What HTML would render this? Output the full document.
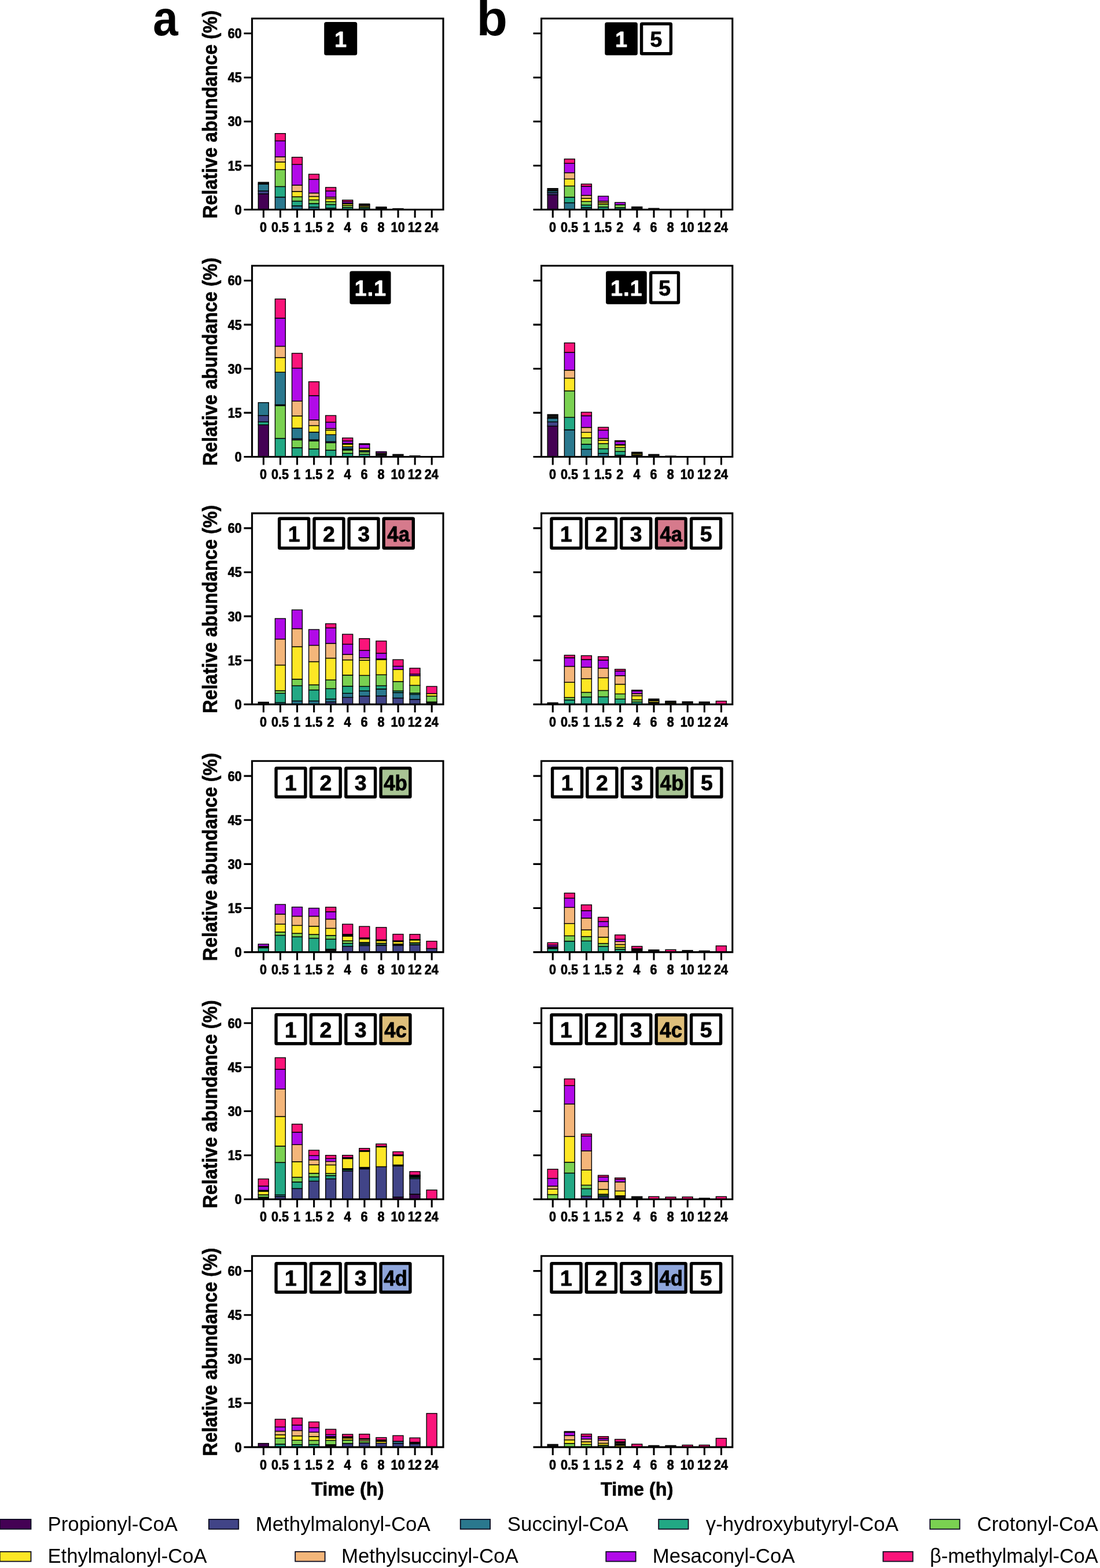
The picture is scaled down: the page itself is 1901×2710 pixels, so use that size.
<!DOCTYPE html>
<html lang="en"><head><meta charset="utf-8"><title>Relative abundance of CoA esters over time</title>
<style>html,body{margin:0;padding:0;background:#fff}body{width:1901px;height:2710px;overflow:hidden}svg{display:block}text{font-family:'Liberation Sans', sans-serif;fill:#000}.tk{font-size:22.3px;font-weight:bold;stroke:#000;stroke-width:0.7px;stroke-linejoin:round}.ax{font-size:31.8px;font-weight:bold;stroke:#000;stroke-width:0.6px;stroke-linejoin:round}.lg{font-size:34.85px}.pl{font-size:85px;font-weight:bold}.bd{font-size:37.4px;font-weight:bold;text-anchor:middle;stroke:#000;stroke-width:0.8px;stroke-linejoin:round}.fr{fill:none;stroke:#000;stroke-width:3.1}.bar rect{stroke:#000;stroke-width:1.4}</style></head>
<body><svg width="1901" height="2710" viewBox="0 0 1901 2710">
<rect width="1901" height="2710" fill="#fff"/>
<text class="pl" transform="translate(264.3 61.2) scale(0.92 1)">a</text>
<text class="pl" transform="translate(823.5 61.2) scale(1.03 1)">b</text>
<g id="panel-a1">
<g class="bar">
<rect x="446.35" y="335.06" width="17.9" height="27.24" fill="#440154"/>
<rect x="446.35" y="330.03" width="17.9" height="5.03" fill="#414487"/>
<rect x="446.35" y="318.3" width="17.9" height="11.73" fill="#2a788e"/>
<rect x="446.35" y="315.07" width="17.9" height="3.23" fill="#111111"/>
<rect x="475.43" y="340.64" width="17.9" height="21.66" fill="#2a788e"/>
<rect x="475.43" y="322.43" width="17.9" height="18.21" fill="#22a884"/>
<rect x="475.43" y="293.16" width="17.9" height="29.27" fill="#7ad151"/>
<rect x="475.43" y="279.97" width="17.9" height="13.18" fill="#fde725"/>
<rect x="475.43" y="271.03" width="17.9" height="8.94" fill="#f4b67a"/>
<rect x="475.43" y="243.44" width="17.9" height="27.6" fill="#b10ae8"/>
<rect x="475.43" y="230.71" width="17.9" height="12.72" fill="#fa147a"/>
<rect x="504.51" y="355.73" width="17.9" height="6.57" fill="#2a788e"/>
<rect x="504.51" y="347.57" width="17.9" height="8.16" fill="#22a884"/>
<rect x="504.51" y="340.08" width="17.9" height="7.49" fill="#7ad151"/>
<rect x="504.51" y="330.92" width="17.9" height="9.16" fill="#fde725"/>
<rect x="504.51" y="319.97" width="17.9" height="10.95" fill="#f4b67a"/>
<rect x="504.51" y="284.22" width="17.9" height="35.75" fill="#b10ae8"/>
<rect x="504.51" y="271.72" width="17.9" height="12.5" fill="#fa147a"/>
<rect x="533.59" y="357.96" width="17.9" height="4.34" fill="#2a788e"/>
<rect x="533.59" y="351.82" width="17.9" height="6.15" fill="#22a884"/>
<rect x="533.59" y="345.45" width="17.9" height="6.37" fill="#7ad151"/>
<rect x="533.59" y="339.53" width="17.9" height="5.92" fill="#fde725"/>
<rect x="533.59" y="333.6" width="17.9" height="5.92" fill="#f4b67a"/>
<rect x="533.59" y="309.92" width="17.9" height="23.69" fill="#b10ae8"/>
<rect x="533.59" y="301.1" width="17.9" height="8.81" fill="#fa147a"/>
<rect x="562.67" y="359.64" width="17.9" height="2.66" fill="#2a788e"/>
<rect x="562.67" y="353.49" width="17.9" height="6.15" fill="#22a884"/>
<rect x="562.67" y="348.46" width="17.9" height="5.03" fill="#7ad151"/>
<rect x="562.67" y="343.44" width="17.9" height="5.03" fill="#fde725"/>
<rect x="562.67" y="340.64" width="17.9" height="2.79" fill="#f4b67a"/>
<rect x="562.67" y="330.03" width="17.9" height="10.61" fill="#b10ae8"/>
<rect x="562.67" y="323.9" width="17.9" height="6.13" fill="#fa147a"/>
<rect x="591.75" y="358.52" width="17.9" height="3.78" fill="#22a884"/>
<rect x="591.75" y="355.17" width="17.9" height="3.35" fill="#7ad151"/>
<rect x="591.75" y="352.37" width="17.9" height="2.79" fill="#fde725"/>
<rect x="591.75" y="351.26" width="17.9" height="1.12" fill="#f4b67a"/>
<rect x="591.75" y="348.46" width="17.9" height="2.79" fill="#b10ae8"/>
<rect x="591.75" y="345.8" width="17.9" height="2.67" fill="#fa147a"/>
<rect x="620.83" y="359.41" width="17.9" height="2.89" fill="#22a884"/>
<rect x="620.83" y="357.4" width="17.9" height="2.01" fill="#7ad151"/>
<rect x="620.83" y="355.39" width="17.9" height="2.01" fill="#fde725"/>
<rect x="620.83" y="353.72" width="17.9" height="1.68" fill="#b10ae8"/>
<rect x="620.83" y="352.39" width="17.9" height="1.33" fill="#fa147a"/>
<rect x="649.91" y="359.86" width="17.9" height="2.44" fill="#111111"/>
<rect x="649.91" y="358.85" width="17.9" height="1.01" fill="#fde725"/>
<rect x="649.91" y="357.75" width="17.9" height="1.1" fill="#111111"/>
<rect x="678.99" y="360.55" width="17.9" height="1.75" fill="#111111"/>
<rect x="708.07" y="362" width="17.9" height="0.3" fill="#111111"/>
</g>
<path class="fr" d="M421.5 362.3H766V32H435.6V362.3M421.5 286.18H435.6M421.5 210.05H435.6M421.5 133.93H435.6M421.5 57.8H435.6M455.4 362.3V376.2M484.48 362.3V376.2M513.56 362.3V376.2M542.64 362.3V376.2M571.72 362.3V376.2M600.8 362.3V376.2M629.88 362.3V376.2M658.96 362.3V376.2M688.04 362.3V376.2M717.12 362.3V376.2M746.2 362.3V376.2"/>
<text class="tk" text-anchor="middle" transform="translate(455 400.7) scale(0.97 1.05)">0</text>
<text class="tk" text-anchor="middle" transform="translate(484.08 400.7) scale(0.97 1.05)">0.5</text>
<text class="tk" text-anchor="middle" transform="translate(513.16 400.7) scale(0.97 1.05)">1</text>
<text class="tk" text-anchor="middle" transform="translate(542.24 400.7) scale(0.97 1.05)">1.5</text>
<text class="tk" text-anchor="middle" transform="translate(571.32 400.7) scale(0.97 1.05)">2</text>
<text class="tk" text-anchor="middle" transform="translate(600.4 400.7) scale(0.97 1.05)">4</text>
<text class="tk" text-anchor="middle" transform="translate(629.48 400.7) scale(0.97 1.05)">6</text>
<text class="tk" text-anchor="middle" transform="translate(658.56 400.7) scale(0.97 1.05)">8</text>
<text class="tk" text-anchor="middle" transform="translate(687.64 400.7) scale(0.97 1.05)">10</text>
<text class="tk" text-anchor="middle" transform="translate(716.72 400.7) scale(0.97 1.05)">12</text>
<text class="tk" text-anchor="middle" transform="translate(745.8 400.7) scale(0.97 1.05)">24</text>
<text class="tk" text-anchor="end" transform="translate(417.8 370.7) scale(0.97 1.05)">0</text>
<text class="tk" text-anchor="end" transform="translate(417.8 294.57) scale(0.97 1.05)">15</text>
<text class="tk" text-anchor="end" transform="translate(417.8 218.45) scale(0.97 1.05)">30</text>
<text class="tk" text-anchor="end" transform="translate(417.8 142.33) scale(0.97 1.05)">45</text>
<text class="tk" text-anchor="end" transform="translate(417.8 66.2) scale(0.97 1.05)">60</text>
<text class="ax" transform="translate(374.9 377.7) rotate(-90) scale(1.008 1.075)">Relative abundance (%)</text>
<rect x="560.2" y="38.1" width="57" height="57.4" rx="3.5" fill="#000"/>
<text class="bd" style="fill:#fff;stroke:#fff" transform="translate(588.7 80.7)">1</text>
</g>
<g id="panel-b1">
<g class="bar">
<rect x="946.25" y="336.51" width="17.9" height="25.79" fill="#440154"/>
<rect x="946.25" y="332.93" width="17.9" height="3.58" fill="#414487"/>
<rect x="946.25" y="329.8" width="17.9" height="3.13" fill="#2a788e"/>
<rect x="946.25" y="325.69" width="17.9" height="4.12" fill="#111111"/>
<rect x="975.37" y="350.47" width="17.9" height="11.83" fill="#2a788e"/>
<rect x="975.37" y="340.75" width="17.9" height="9.72" fill="#22a884"/>
<rect x="975.37" y="321.42" width="17.9" height="19.33" fill="#7ad151"/>
<rect x="975.37" y="309.36" width="17.9" height="12.07" fill="#fde725"/>
<rect x="975.37" y="298.52" width="17.9" height="10.84" fill="#f4b67a"/>
<rect x="975.37" y="282.32" width="17.9" height="16.2" fill="#b10ae8"/>
<rect x="975.37" y="274.85" width="17.9" height="7.47" fill="#fa147a"/>
<rect x="1004.49" y="358.85" width="17.9" height="3.45" fill="#2a788e"/>
<rect x="1004.49" y="354.39" width="17.9" height="4.47" fill="#22a884"/>
<rect x="1004.49" y="348.24" width="17.9" height="6.15" fill="#7ad151"/>
<rect x="1004.49" y="342.65" width="17.9" height="5.59" fill="#fde725"/>
<rect x="1004.49" y="337.63" width="17.9" height="5.03" fill="#f4b67a"/>
<rect x="1004.49" y="321.98" width="17.9" height="15.64" fill="#b10ae8"/>
<rect x="1004.49" y="318.09" width="17.9" height="3.9" fill="#fa147a"/>
<rect x="1033.61" y="357.74" width="17.9" height="4.56" fill="#22a884"/>
<rect x="1033.61" y="353.27" width="17.9" height="4.47" fill="#7ad151"/>
<rect x="1033.61" y="350.47" width="17.9" height="2.79" fill="#fde725"/>
<rect x="1033.61" y="347.68" width="17.9" height="2.79" fill="#f4b67a"/>
<rect x="1033.61" y="339.09" width="17.9" height="8.59" fill="#b10ae8"/>
<rect x="1062.73" y="358.85" width="17.9" height="3.45" fill="#22a884"/>
<rect x="1062.73" y="353.83" width="17.9" height="5.03" fill="#7ad151"/>
<rect x="1062.73" y="349.93" width="17.9" height="3.9" fill="#b10ae8"/>
<rect x="1091.85" y="357.53" width="17.9" height="4.77" fill="#111111"/>
<rect x="1120.97" y="360.17" width="17.9" height="2.13" fill="#111111"/>
</g>
<path class="fr" d="M921.5 362.3H1265.8V32H935.6V362.3M921.5 286.18H935.6M921.5 210.05H935.6M921.5 133.93H935.6M921.5 57.8H935.6M955.3 362.3V376.2M984.42 362.3V376.2M1013.54 362.3V376.2M1042.66 362.3V376.2M1071.78 362.3V376.2M1100.9 362.3V376.2M1130.02 362.3V376.2M1159.14 362.3V376.2M1188.26 362.3V376.2M1217.38 362.3V376.2M1246.5 362.3V376.2"/>
<text class="tk" text-anchor="middle" transform="translate(954.9 400.7) scale(0.97 1.05)">0</text>
<text class="tk" text-anchor="middle" transform="translate(984.02 400.7) scale(0.97 1.05)">0.5</text>
<text class="tk" text-anchor="middle" transform="translate(1013.14 400.7) scale(0.97 1.05)">1</text>
<text class="tk" text-anchor="middle" transform="translate(1042.26 400.7) scale(0.97 1.05)">1.5</text>
<text class="tk" text-anchor="middle" transform="translate(1071.38 400.7) scale(0.97 1.05)">2</text>
<text class="tk" text-anchor="middle" transform="translate(1100.5 400.7) scale(0.97 1.05)">4</text>
<text class="tk" text-anchor="middle" transform="translate(1129.62 400.7) scale(0.97 1.05)">6</text>
<text class="tk" text-anchor="middle" transform="translate(1158.74 400.7) scale(0.97 1.05)">8</text>
<text class="tk" text-anchor="middle" transform="translate(1187.86 400.7) scale(0.97 1.05)">10</text>
<text class="tk" text-anchor="middle" transform="translate(1216.98 400.7) scale(0.97 1.05)">12</text>
<text class="tk" text-anchor="middle" transform="translate(1246.1 400.7) scale(0.97 1.05)">24</text>
<rect x="1045.3" y="38.4" width="56.6" height="57" rx="3.5" fill="#000"/>
<text class="bd" style="fill:#fff;stroke:#fff" transform="translate(1073.6 80.8)">1</text>
<rect x="1105.9" y="38.4" width="56.2" height="57" rx="3.5" fill="#000"/>
<rect x="1111.3" y="43.8" width="45.4" height="46.2" fill="#fff"/>
<text class="bd" transform="translate(1134 80.8)">5</text>
</g>
<g id="panel-a2">
<g class="bar">
<rect x="446.35" y="734.25" width="17.9" height="55.25" fill="#440154"/>
<rect x="446.35" y="729.19" width="17.9" height="5.05" fill="#22a884"/>
<rect x="446.35" y="718.21" width="17.9" height="10.99" fill="#414487"/>
<rect x="446.35" y="695.82" width="17.9" height="22.39" fill="#2a788e"/>
<rect x="475.43" y="757.61" width="17.9" height="31.89" fill="#22a884"/>
<rect x="475.43" y="701.15" width="17.9" height="56.46" fill="#7ad151"/>
<rect x="475.43" y="699.51" width="17.9" height="1.64" fill="#414487"/>
<rect x="475.43" y="643.31" width="17.9" height="56.21" fill="#2a788e"/>
<rect x="475.43" y="618.04" width="17.9" height="25.26" fill="#fde725"/>
<rect x="475.43" y="598.47" width="17.9" height="19.58" fill="#f4b67a"/>
<rect x="475.43" y="549.84" width="17.9" height="48.63" fill="#b10ae8"/>
<rect x="475.43" y="516.72" width="17.9" height="33.12" fill="#fa147a"/>
<rect x="504.51" y="773.78" width="17.9" height="15.72" fill="#22a884"/>
<rect x="504.51" y="760.39" width="17.9" height="13.39" fill="#7ad151"/>
<rect x="504.51" y="758.24" width="17.9" height="2.15" fill="#414487"/>
<rect x="504.51" y="739.93" width="17.9" height="18.31" fill="#2a788e"/>
<rect x="504.51" y="718.84" width="17.9" height="21.09" fill="#fde725"/>
<rect x="504.51" y="693.2" width="17.9" height="25.64" fill="#f4b67a"/>
<rect x="504.51" y="636.36" width="17.9" height="56.84" fill="#b10ae8"/>
<rect x="504.51" y="610.56" width="17.9" height="25.8" fill="#fa147a"/>
<rect x="533.59" y="775.93" width="17.9" height="13.57" fill="#22a884"/>
<rect x="533.59" y="762.03" width="17.9" height="13.89" fill="#7ad151"/>
<rect x="533.59" y="760.14" width="17.9" height="1.89" fill="#414487"/>
<rect x="533.59" y="746.88" width="17.9" height="13.26" fill="#2a788e"/>
<rect x="533.59" y="735.51" width="17.9" height="11.37" fill="#fde725"/>
<rect x="533.59" y="725.78" width="17.9" height="9.73" fill="#f4b67a"/>
<rect x="533.59" y="683.72" width="17.9" height="42.06" fill="#b10ae8"/>
<rect x="533.59" y="659.7" width="17.9" height="24.03" fill="#fa147a"/>
<rect x="562.67" y="778.07" width="17.9" height="11.43" fill="#22a884"/>
<rect x="562.67" y="765.19" width="17.9" height="12.88" fill="#7ad151"/>
<rect x="562.67" y="763.3" width="17.9" height="1.89" fill="#414487"/>
<rect x="562.67" y="751.3" width="17.9" height="12" fill="#2a788e"/>
<rect x="562.67" y="743.47" width="17.9" height="7.83" fill="#fde725"/>
<rect x="562.67" y="740.56" width="17.9" height="2.91" fill="#f4b67a"/>
<rect x="562.67" y="729.57" width="17.9" height="10.99" fill="#b10ae8"/>
<rect x="562.67" y="718.18" width="17.9" height="11.4" fill="#fa147a"/>
<rect x="591.75" y="783.51" width="17.9" height="5.99" fill="#22a884"/>
<rect x="591.75" y="777.82" width="17.9" height="5.68" fill="#7ad151"/>
<rect x="591.75" y="775.93" width="17.9" height="1.89" fill="#414487"/>
<rect x="591.75" y="772.14" width="17.9" height="3.79" fill="#2a788e"/>
<rect x="591.75" y="767.72" width="17.9" height="4.42" fill="#fde725"/>
<rect x="591.75" y="766.45" width="17.9" height="1.26" fill="#f4b67a"/>
<rect x="591.75" y="762.03" width="17.9" height="4.42" fill="#b10ae8"/>
<rect x="591.75" y="756.95" width="17.9" height="5.08" fill="#fa147a"/>
<rect x="620.83" y="785.25" width="17.9" height="4.25" fill="#22a884"/>
<rect x="620.83" y="780.78" width="17.9" height="4.47" fill="#7ad151"/>
<rect x="620.83" y="778.55" width="17.9" height="2.23" fill="#2a788e"/>
<rect x="620.83" y="774.64" width="17.9" height="3.91" fill="#fde725"/>
<rect x="620.83" y="767.93" width="17.9" height="6.7" fill="#b10ae8"/>
<rect x="620.83" y="766.83" width="17.9" height="1.1" fill="#fa147a"/>
<rect x="649.91" y="784.69" width="17.9" height="4.81" fill="#111111"/>
<rect x="649.91" y="782.79" width="17.9" height="1.9" fill="#f4b67a"/>
<rect x="649.91" y="780.57" width="17.9" height="2.22" fill="#b10ae8"/>
<rect x="678.99" y="785.38" width="17.9" height="4.12" fill="#111111"/>
<rect x="708.07" y="787.84" width="17.9" height="1.66" fill="#111111"/>
</g>
<path class="fr" d="M421.5 789.5H766V459.2H435.6V789.5M421.5 713.38H435.6M421.5 637.25H435.6M421.5 561.12H435.6M421.5 485H435.6M455.4 789.5V803.4M484.48 789.5V803.4M513.56 789.5V803.4M542.64 789.5V803.4M571.72 789.5V803.4M600.8 789.5V803.4M629.88 789.5V803.4M658.96 789.5V803.4M688.04 789.5V803.4M717.12 789.5V803.4M746.2 789.5V803.4"/>
<text class="tk" text-anchor="middle" transform="translate(455 827.9) scale(0.97 1.05)">0</text>
<text class="tk" text-anchor="middle" transform="translate(484.08 827.9) scale(0.97 1.05)">0.5</text>
<text class="tk" text-anchor="middle" transform="translate(513.16 827.9) scale(0.97 1.05)">1</text>
<text class="tk" text-anchor="middle" transform="translate(542.24 827.9) scale(0.97 1.05)">1.5</text>
<text class="tk" text-anchor="middle" transform="translate(571.32 827.9) scale(0.97 1.05)">2</text>
<text class="tk" text-anchor="middle" transform="translate(600.4 827.9) scale(0.97 1.05)">4</text>
<text class="tk" text-anchor="middle" transform="translate(629.48 827.9) scale(0.97 1.05)">6</text>
<text class="tk" text-anchor="middle" transform="translate(658.56 827.9) scale(0.97 1.05)">8</text>
<text class="tk" text-anchor="middle" transform="translate(687.64 827.9) scale(0.97 1.05)">10</text>
<text class="tk" text-anchor="middle" transform="translate(716.72 827.9) scale(0.97 1.05)">12</text>
<text class="tk" text-anchor="middle" transform="translate(745.8 827.9) scale(0.97 1.05)">24</text>
<text class="tk" text-anchor="end" transform="translate(417.8 797.9) scale(0.97 1.05)">0</text>
<text class="tk" text-anchor="end" transform="translate(417.8 721.77) scale(0.97 1.05)">15</text>
<text class="tk" text-anchor="end" transform="translate(417.8 645.65) scale(0.97 1.05)">30</text>
<text class="tk" text-anchor="end" transform="translate(417.8 569.52) scale(0.97 1.05)">45</text>
<text class="tk" text-anchor="end" transform="translate(417.8 493.4) scale(0.97 1.05)">60</text>
<text class="ax" transform="translate(374.9 804.9) rotate(-90) scale(1.008 1.075)">Relative abundance (%)</text>
<rect x="604.4" y="468.4" width="71.1" height="57.4" rx="3.5" fill="#000"/>
<text class="bd" style="fill:#fff;stroke:#fff;letter-spacing:1.2px" transform="translate(640.55 511)">1.1</text>
</g>
<g id="panel-b2">
<g class="bar">
<rect x="946.25" y="736.42" width="17.9" height="53.08" fill="#440154"/>
<rect x="946.25" y="729.16" width="17.9" height="7.26" fill="#414487"/>
<rect x="946.25" y="722.79" width="17.9" height="6.37" fill="#2a788e"/>
<rect x="946.25" y="716.44" width="17.9" height="6.35" fill="#111111"/>
<rect x="975.37" y="742.91" width="17.9" height="46.59" fill="#2a788e"/>
<rect x="975.37" y="721.34" width="17.9" height="21.56" fill="#22a884"/>
<rect x="975.37" y="675.53" width="17.9" height="45.81" fill="#7ad151"/>
<rect x="975.37" y="653.52" width="17.9" height="22.01" fill="#fde725"/>
<rect x="975.37" y="639.78" width="17.9" height="13.74" fill="#f4b67a"/>
<rect x="975.37" y="609.05" width="17.9" height="30.73" fill="#b10ae8"/>
<rect x="975.37" y="592.64" width="17.9" height="16.41" fill="#fa147a"/>
<rect x="1004.49" y="776.42" width="17.9" height="13.08" fill="#2a788e"/>
<rect x="1004.49" y="767.71" width="17.9" height="8.72" fill="#22a884"/>
<rect x="1004.49" y="756.76" width="17.9" height="10.95" fill="#7ad151"/>
<rect x="1004.49" y="747.26" width="17.9" height="9.5" fill="#fde725"/>
<rect x="1004.49" y="738.66" width="17.9" height="8.6" fill="#f4b67a"/>
<rect x="1004.49" y="718.55" width="17.9" height="20.11" fill="#b10ae8"/>
<rect x="1004.49" y="712.42" width="17.9" height="6.13" fill="#fa147a"/>
<rect x="1033.61" y="783.58" width="17.9" height="5.92" fill="#2a788e"/>
<rect x="1033.61" y="775.53" width="17.9" height="8.04" fill="#22a884"/>
<rect x="1033.61" y="766.59" width="17.9" height="8.94" fill="#7ad151"/>
<rect x="1033.61" y="761.01" width="17.9" height="5.59" fill="#fde725"/>
<rect x="1033.61" y="757.65" width="17.9" height="3.35" fill="#f4b67a"/>
<rect x="1033.61" y="743.46" width="17.9" height="14.19" fill="#b10ae8"/>
<rect x="1033.61" y="738.45" width="17.9" height="5.01" fill="#fa147a"/>
<rect x="1062.73" y="786.7" width="17.9" height="2.8" fill="#2a788e"/>
<rect x="1062.73" y="780.22" width="17.9" height="6.48" fill="#22a884"/>
<rect x="1062.73" y="773.3" width="17.9" height="6.93" fill="#7ad151"/>
<rect x="1062.73" y="769.39" width="17.9" height="3.91" fill="#fde725"/>
<rect x="1062.73" y="768.27" width="17.9" height="1.12" fill="#111111"/>
<rect x="1062.73" y="763.24" width="17.9" height="5.03" fill="#b10ae8"/>
<rect x="1062.73" y="761.58" width="17.9" height="1.66" fill="#fa147a"/>
<rect x="1091.85" y="786.15" width="17.9" height="3.35" fill="#111111"/>
<rect x="1091.85" y="783.91" width="17.9" height="2.23" fill="#fde725"/>
<rect x="1091.85" y="781.47" width="17.9" height="2.44" fill="#111111"/>
<rect x="1120.97" y="785.38" width="17.9" height="4.12" fill="#111111"/>
<rect x="1150.09" y="788.17" width="17.9" height="1.33" fill="#111111"/>
</g>
<path class="fr" d="M921.5 789.5H1265.8V459.2H935.6V789.5M921.5 713.38H935.6M921.5 637.25H935.6M921.5 561.12H935.6M921.5 485H935.6M955.3 789.5V803.4M984.42 789.5V803.4M1013.54 789.5V803.4M1042.66 789.5V803.4M1071.78 789.5V803.4M1100.9 789.5V803.4M1130.02 789.5V803.4M1159.14 789.5V803.4M1188.26 789.5V803.4M1217.38 789.5V803.4M1246.5 789.5V803.4"/>
<text class="tk" text-anchor="middle" transform="translate(954.9 827.9) scale(0.97 1.05)">0</text>
<text class="tk" text-anchor="middle" transform="translate(984.02 827.9) scale(0.97 1.05)">0.5</text>
<text class="tk" text-anchor="middle" transform="translate(1013.14 827.9) scale(0.97 1.05)">1</text>
<text class="tk" text-anchor="middle" transform="translate(1042.26 827.9) scale(0.97 1.05)">1.5</text>
<text class="tk" text-anchor="middle" transform="translate(1071.38 827.9) scale(0.97 1.05)">2</text>
<text class="tk" text-anchor="middle" transform="translate(1100.5 827.9) scale(0.97 1.05)">4</text>
<text class="tk" text-anchor="middle" transform="translate(1129.62 827.9) scale(0.97 1.05)">6</text>
<text class="tk" text-anchor="middle" transform="translate(1158.74 827.9) scale(0.97 1.05)">8</text>
<text class="tk" text-anchor="middle" transform="translate(1187.86 827.9) scale(0.97 1.05)">10</text>
<text class="tk" text-anchor="middle" transform="translate(1216.98 827.9) scale(0.97 1.05)">12</text>
<text class="tk" text-anchor="middle" transform="translate(1246.1 827.9) scale(0.97 1.05)">24</text>
<rect x="1047.1" y="468.4" width="70.7" height="57.4" rx="3.5" fill="#000"/>
<text class="bd" style="fill:#fff;stroke:#fff;letter-spacing:1.2px" transform="translate(1083.05 511)">1.1</text>
<rect x="1122" y="468.4" width="53.2" height="57.4" rx="3.5" fill="#000"/>
<rect x="1127.4" y="473.8" width="42.4" height="46.6" fill="#fff"/>
<text class="bd" transform="translate(1148.6 511)">5</text>
</g>
<g id="panel-a3">
<g class="bar">
<rect x="446.35" y="1213.51" width="17.9" height="3.89" fill="#111111"/>
<rect x="475.43" y="1214.27" width="17.9" height="3.13" fill="#2a788e"/>
<rect x="475.43" y="1198.3" width="17.9" height="15.98" fill="#22a884"/>
<rect x="475.43" y="1193.6" width="17.9" height="4.69" fill="#7ad151"/>
<rect x="475.43" y="1149.47" width="17.9" height="44.13" fill="#fde725"/>
<rect x="475.43" y="1104.55" width="17.9" height="44.92" fill="#f4b67a"/>
<rect x="475.43" y="1069.04" width="17.9" height="35.52" fill="#b10ae8"/>
<rect x="504.51" y="1211.48" width="17.9" height="5.92" fill="#2a788e"/>
<rect x="504.51" y="1185.22" width="17.9" height="26.26" fill="#22a884"/>
<rect x="504.51" y="1173.83" width="17.9" height="11.4" fill="#7ad151"/>
<rect x="504.51" y="1117.63" width="17.9" height="56.2" fill="#fde725"/>
<rect x="504.51" y="1086.56" width="17.9" height="31.06" fill="#f4b67a"/>
<rect x="504.51" y="1054.07" width="17.9" height="32.5" fill="#b10ae8"/>
<rect x="533.59" y="1211.48" width="17.9" height="5.92" fill="#2a788e"/>
<rect x="533.59" y="1192.49" width="17.9" height="18.99" fill="#22a884"/>
<rect x="533.59" y="1183.55" width="17.9" height="8.94" fill="#7ad151"/>
<rect x="533.59" y="1143.55" width="17.9" height="40" fill="#fde725"/>
<rect x="533.59" y="1115.39" width="17.9" height="28.16" fill="#f4b67a"/>
<rect x="533.59" y="1088.03" width="17.9" height="27.36" fill="#b10ae8"/>
<rect x="562.67" y="1213.16" width="17.9" height="4.24" fill="#414487"/>
<rect x="562.67" y="1208.13" width="17.9" height="5.03" fill="#2a788e"/>
<rect x="562.67" y="1190.25" width="17.9" height="17.88" fill="#22a884"/>
<rect x="562.67" y="1175.17" width="17.9" height="15.08" fill="#7ad151"/>
<rect x="562.67" y="1137.51" width="17.9" height="37.65" fill="#fde725"/>
<rect x="562.67" y="1112.04" width="17.9" height="25.47" fill="#f4b67a"/>
<rect x="562.67" y="1085.22" width="17.9" height="26.82" fill="#b10ae8"/>
<rect x="562.67" y="1077.98" width="17.9" height="7.25" fill="#fa147a"/>
<rect x="591.75" y="1205.34" width="17.9" height="12.06" fill="#414487"/>
<rect x="591.75" y="1198.3" width="17.9" height="7.04" fill="#2a788e"/>
<rect x="591.75" y="1186.01" width="17.9" height="12.29" fill="#22a884"/>
<rect x="591.75" y="1166.79" width="17.9" height="19.22" fill="#7ad151"/>
<rect x="591.75" y="1140.53" width="17.9" height="26.26" fill="#fde725"/>
<rect x="591.75" y="1131.03" width="17.9" height="9.5" fill="#f4b67a"/>
<rect x="591.75" y="1113.38" width="17.9" height="17.65" fill="#b10ae8"/>
<rect x="591.75" y="1096.19" width="17.9" height="17.19" fill="#fa147a"/>
<rect x="620.83" y="1203.1" width="17.9" height="14.3" fill="#414487"/>
<rect x="620.83" y="1194.16" width="17.9" height="8.94" fill="#2a788e"/>
<rect x="620.83" y="1186.34" width="17.9" height="7.82" fill="#22a884"/>
<rect x="620.83" y="1167.35" width="17.9" height="18.99" fill="#7ad151"/>
<rect x="620.83" y="1141.09" width="17.9" height="26.26" fill="#fde725"/>
<rect x="620.83" y="1136.84" width="17.9" height="4.25" fill="#f4b67a"/>
<rect x="620.83" y="1124.11" width="17.9" height="12.74" fill="#b10ae8"/>
<rect x="620.83" y="1103.67" width="17.9" height="20.43" fill="#fa147a"/>
<rect x="649.91" y="1202.77" width="17.9" height="14.63" fill="#414487"/>
<rect x="649.91" y="1190.81" width="17.9" height="11.96" fill="#2a788e"/>
<rect x="649.91" y="1185.22" width="17.9" height="5.59" fill="#22a884"/>
<rect x="649.91" y="1166.23" width="17.9" height="18.99" fill="#7ad151"/>
<rect x="649.91" y="1139.97" width="17.9" height="26.26" fill="#fde725"/>
<rect x="649.91" y="1138.85" width="17.9" height="1.12" fill="#f4b67a"/>
<rect x="649.91" y="1129.02" width="17.9" height="9.83" fill="#b10ae8"/>
<rect x="649.91" y="1107.92" width="17.9" height="21.1" fill="#fa147a"/>
<rect x="678.99" y="1206.45" width="17.9" height="10.95" fill="#414487"/>
<rect x="678.99" y="1196.96" width="17.9" height="9.5" fill="#2a788e"/>
<rect x="678.99" y="1194.16" width="17.9" height="2.79" fill="#22a884"/>
<rect x="678.99" y="1177.96" width="17.9" height="16.2" fill="#7ad151"/>
<rect x="678.99" y="1157.07" width="17.9" height="20.89" fill="#fde725"/>
<rect x="678.99" y="1151.48" width="17.9" height="5.59" fill="#b10ae8"/>
<rect x="678.99" y="1140.1" width="17.9" height="11.38" fill="#fa147a"/>
<rect x="708.07" y="1208.69" width="17.9" height="8.71" fill="#414487"/>
<rect x="708.07" y="1200.31" width="17.9" height="8.38" fill="#2a788e"/>
<rect x="708.07" y="1197.85" width="17.9" height="2.46" fill="#22a884"/>
<rect x="708.07" y="1184.44" width="17.9" height="13.41" fill="#7ad151"/>
<rect x="708.07" y="1167.68" width="17.9" height="16.76" fill="#fde725"/>
<rect x="708.07" y="1165.11" width="17.9" height="2.57" fill="#b10ae8"/>
<rect x="708.07" y="1154.85" width="17.9" height="10.26" fill="#fa147a"/>
<rect x="737.15" y="1213.16" width="17.9" height="4.24" fill="#111111"/>
<rect x="737.15" y="1203.1" width="17.9" height="10.06" fill="#7ad151"/>
<rect x="737.15" y="1198.63" width="17.9" height="4.47" fill="#fde725"/>
<rect x="737.15" y="1186.36" width="17.9" height="12.28" fill="#fa147a"/>
</g>
<path class="fr" d="M421.5 1217.4H766V887.1H435.6V1217.4M421.5 1141.28H435.6M421.5 1065.15H435.6M421.5 989.03H435.6M421.5 912.9H435.6M455.4 1217.4V1231.3M484.48 1217.4V1231.3M513.56 1217.4V1231.3M542.64 1217.4V1231.3M571.72 1217.4V1231.3M600.8 1217.4V1231.3M629.88 1217.4V1231.3M658.96 1217.4V1231.3M688.04 1217.4V1231.3M717.12 1217.4V1231.3M746.2 1217.4V1231.3"/>
<text class="tk" text-anchor="middle" transform="translate(455 1255.8) scale(0.97 1.05)">0</text>
<text class="tk" text-anchor="middle" transform="translate(484.08 1255.8) scale(0.97 1.05)">0.5</text>
<text class="tk" text-anchor="middle" transform="translate(513.16 1255.8) scale(0.97 1.05)">1</text>
<text class="tk" text-anchor="middle" transform="translate(542.24 1255.8) scale(0.97 1.05)">1.5</text>
<text class="tk" text-anchor="middle" transform="translate(571.32 1255.8) scale(0.97 1.05)">2</text>
<text class="tk" text-anchor="middle" transform="translate(600.4 1255.8) scale(0.97 1.05)">4</text>
<text class="tk" text-anchor="middle" transform="translate(629.48 1255.8) scale(0.97 1.05)">6</text>
<text class="tk" text-anchor="middle" transform="translate(658.56 1255.8) scale(0.97 1.05)">8</text>
<text class="tk" text-anchor="middle" transform="translate(687.64 1255.8) scale(0.97 1.05)">10</text>
<text class="tk" text-anchor="middle" transform="translate(716.72 1255.8) scale(0.97 1.05)">12</text>
<text class="tk" text-anchor="middle" transform="translate(745.8 1255.8) scale(0.97 1.05)">24</text>
<text class="tk" text-anchor="end" transform="translate(417.8 1225.8) scale(0.97 1.05)">0</text>
<text class="tk" text-anchor="end" transform="translate(417.8 1149.68) scale(0.97 1.05)">15</text>
<text class="tk" text-anchor="end" transform="translate(417.8 1073.55) scale(0.97 1.05)">30</text>
<text class="tk" text-anchor="end" transform="translate(417.8 997.43) scale(0.97 1.05)">45</text>
<text class="tk" text-anchor="end" transform="translate(417.8 921.3) scale(0.97 1.05)">60</text>
<text class="ax" transform="translate(374.9 1232.8) rotate(-90) scale(1.008 1.075)">Relative abundance (%)</text>
<rect x="480" y="893.6" width="56.3" height="56.4" rx="3.5" fill="#000"/>
<rect x="485.4" y="899" width="45.5" height="45.6" fill="#fff"/>
<text class="bd" transform="translate(508.15 935.7)">1</text>
<rect x="540.3" y="893.6" width="56.3" height="56.4" rx="3.5" fill="#000"/>
<rect x="545.7" y="899" width="45.5" height="45.6" fill="#fff"/>
<text class="bd" transform="translate(568.45 935.7)">2</text>
<rect x="600.4" y="893.6" width="56.3" height="56.4" rx="3.5" fill="#000"/>
<rect x="605.8" y="899" width="45.5" height="45.6" fill="#fff"/>
<text class="bd" transform="translate(628.55 935.7)">3</text>
<rect x="660.4" y="893.6" width="56.6" height="56.4" rx="3.5" fill="#000"/>
<rect x="665.8" y="899" width="45.8" height="45.6" fill="#d67a8c"/>
<text class="bd" transform="translate(688.7 935.7) scale(0.93 1)">4a</text>
</g>
<g id="panel-b3">
<g class="bar">
<rect x="946.25" y="1214.54" width="17.9" height="2.86" fill="#111111"/>
<rect x="975.37" y="1209.72" width="17.9" height="7.68" fill="#22a884"/>
<rect x="975.37" y="1205.47" width="17.9" height="4.25" fill="#7ad151"/>
<rect x="975.37" y="1179.22" width="17.9" height="26.26" fill="#fde725"/>
<rect x="975.37" y="1151.62" width="17.9" height="27.6" fill="#f4b67a"/>
<rect x="975.37" y="1136.76" width="17.9" height="14.86" fill="#b10ae8"/>
<rect x="975.37" y="1132.42" width="17.9" height="4.34" fill="#fa147a"/>
<rect x="1004.49" y="1204.58" width="17.9" height="12.82" fill="#22a884"/>
<rect x="1004.49" y="1196.54" width="17.9" height="8.04" fill="#7ad151"/>
<rect x="1004.49" y="1173.07" width="17.9" height="23.46" fill="#fde725"/>
<rect x="1004.49" y="1153.18" width="17.9" height="19.89" fill="#f4b67a"/>
<rect x="1004.49" y="1139.89" width="17.9" height="13.3" fill="#b10ae8"/>
<rect x="1004.49" y="1133.2" width="17.9" height="6.69" fill="#fa147a"/>
<rect x="1033.61" y="1204.36" width="17.9" height="13.04" fill="#22a884"/>
<rect x="1033.61" y="1193.41" width="17.9" height="10.95" fill="#7ad151"/>
<rect x="1033.61" y="1171.4" width="17.9" height="22.01" fill="#fde725"/>
<rect x="1033.61" y="1154.86" width="17.9" height="16.54" fill="#f4b67a"/>
<rect x="1033.61" y="1140.89" width="17.9" height="13.97" fill="#b10ae8"/>
<rect x="1033.61" y="1134.88" width="17.9" height="6.02" fill="#fa147a"/>
<rect x="1062.73" y="1208.27" width="17.9" height="9.13" fill="#22a884"/>
<rect x="1062.73" y="1199.33" width="17.9" height="8.94" fill="#7ad151"/>
<rect x="1062.73" y="1182.57" width="17.9" height="16.76" fill="#fde725"/>
<rect x="1062.73" y="1167.71" width="17.9" height="14.86" fill="#f4b67a"/>
<rect x="1062.73" y="1159.66" width="17.9" height="8.04" fill="#b10ae8"/>
<rect x="1062.73" y="1156.66" width="17.9" height="3" fill="#fa147a"/>
<rect x="1091.85" y="1213.3" width="17.9" height="4.1" fill="#22a884"/>
<rect x="1091.85" y="1209.39" width="17.9" height="3.91" fill="#7ad151"/>
<rect x="1091.85" y="1202.46" width="17.9" height="6.93" fill="#fde725"/>
<rect x="1091.85" y="1198.77" width="17.9" height="3.69" fill="#f4b67a"/>
<rect x="1091.85" y="1194.3" width="17.9" height="4.47" fill="#b10ae8"/>
<rect x="1091.85" y="1192.75" width="17.9" height="1.55" fill="#fa147a"/>
<rect x="1120.97" y="1213.8" width="17.9" height="3.6" fill="#111111"/>
<rect x="1120.97" y="1211.34" width="17.9" height="2.46" fill="#fde725"/>
<rect x="1120.97" y="1208" width="17.9" height="3.34" fill="#111111"/>
<rect x="1150.09" y="1214.92" width="17.9" height="2.48" fill="#111111"/>
<rect x="1150.09" y="1213.35" width="17.9" height="1.56" fill="#fde725"/>
<rect x="1150.09" y="1211.69" width="17.9" height="1.66" fill="#111111"/>
<rect x="1179.21" y="1212.81" width="17.9" height="4.59" fill="#111111"/>
<rect x="1208.33" y="1213.14" width="17.9" height="4.26" fill="#111111"/>
<rect x="1237.45" y="1211.69" width="17.9" height="5.71" fill="#fa147a"/>
</g>
<path class="fr" d="M921.5 1217.4H1265.8V887.1H935.6V1217.4M921.5 1141.28H935.6M921.5 1065.15H935.6M921.5 989.03H935.6M921.5 912.9H935.6M955.3 1217.4V1231.3M984.42 1217.4V1231.3M1013.54 1217.4V1231.3M1042.66 1217.4V1231.3M1071.78 1217.4V1231.3M1100.9 1217.4V1231.3M1130.02 1217.4V1231.3M1159.14 1217.4V1231.3M1188.26 1217.4V1231.3M1217.38 1217.4V1231.3M1246.5 1217.4V1231.3"/>
<text class="tk" text-anchor="middle" transform="translate(954.9 1255.8) scale(0.97 1.05)">0</text>
<text class="tk" text-anchor="middle" transform="translate(984.02 1255.8) scale(0.97 1.05)">0.5</text>
<text class="tk" text-anchor="middle" transform="translate(1013.14 1255.8) scale(0.97 1.05)">1</text>
<text class="tk" text-anchor="middle" transform="translate(1042.26 1255.8) scale(0.97 1.05)">1.5</text>
<text class="tk" text-anchor="middle" transform="translate(1071.38 1255.8) scale(0.97 1.05)">2</text>
<text class="tk" text-anchor="middle" transform="translate(1100.5 1255.8) scale(0.97 1.05)">4</text>
<text class="tk" text-anchor="middle" transform="translate(1129.62 1255.8) scale(0.97 1.05)">6</text>
<text class="tk" text-anchor="middle" transform="translate(1158.74 1255.8) scale(0.97 1.05)">8</text>
<text class="tk" text-anchor="middle" transform="translate(1187.86 1255.8) scale(0.97 1.05)">10</text>
<text class="tk" text-anchor="middle" transform="translate(1216.98 1255.8) scale(0.97 1.05)">12</text>
<text class="tk" text-anchor="middle" transform="translate(1246.1 1255.8) scale(0.97 1.05)">24</text>
<rect x="950.3" y="893.5" width="56.4" height="56.5" rx="3.5" fill="#000"/>
<rect x="955.7" y="898.9" width="45.6" height="45.7" fill="#fff"/>
<text class="bd" transform="translate(978.5 935.65)">1</text>
<rect x="1010.9" y="893.5" width="56.3" height="56.5" rx="3.5" fill="#000"/>
<rect x="1016.3" y="898.9" width="45.5" height="45.7" fill="#fff"/>
<text class="bd" transform="translate(1039.05 935.65)">2</text>
<rect x="1071.1" y="893.5" width="56.3" height="56.5" rx="3.5" fill="#000"/>
<rect x="1076.5" y="898.9" width="45.5" height="45.7" fill="#fff"/>
<text class="bd" transform="translate(1099.25 935.65)">3</text>
<rect x="1131.7" y="893.5" width="56.2" height="56.5" rx="3.5" fill="#000"/>
<rect x="1137.1" y="898.9" width="45.4" height="45.7" fill="#d67a8c"/>
<text class="bd" transform="translate(1159.8 935.65) scale(0.93 1)">4a</text>
<rect x="1191.9" y="893.5" width="56.4" height="56.5" rx="3.5" fill="#000"/>
<rect x="1197.3" y="898.9" width="45.6" height="45.7" fill="#fff"/>
<text class="bd" transform="translate(1220.1 935.65)">5</text>
</g>
<g id="panel-a4">
<g class="bar">
<rect x="446.35" y="1638.27" width="17.9" height="7.33" fill="#22a884"/>
<rect x="446.35" y="1635.47" width="17.9" height="2.79" fill="#111111"/>
<rect x="446.35" y="1631.69" width="17.9" height="3.78" fill="#b10ae8"/>
<rect x="475.43" y="1616.48" width="17.9" height="29.12" fill="#22a884"/>
<rect x="475.43" y="1610.89" width="17.9" height="5.59" fill="#7ad151"/>
<rect x="475.43" y="1597.15" width="17.9" height="13.74" fill="#fde725"/>
<rect x="475.43" y="1579.94" width="17.9" height="17.21" fill="#f4b67a"/>
<rect x="475.43" y="1563.2" width="17.9" height="16.74" fill="#b10ae8"/>
<rect x="504.51" y="1619.05" width="17.9" height="26.55" fill="#22a884"/>
<rect x="504.51" y="1613.13" width="17.9" height="5.92" fill="#7ad151"/>
<rect x="504.51" y="1599.39" width="17.9" height="13.74" fill="#fde725"/>
<rect x="504.51" y="1583.52" width="17.9" height="15.87" fill="#f4b67a"/>
<rect x="504.51" y="1567.67" width="17.9" height="15.85" fill="#b10ae8"/>
<rect x="533.59" y="1621.51" width="17.9" height="24.09" fill="#22a884"/>
<rect x="533.59" y="1615.03" width="17.9" height="6.48" fill="#7ad151"/>
<rect x="533.59" y="1600.84" width="17.9" height="14.19" fill="#fde725"/>
<rect x="533.59" y="1583.52" width="17.9" height="17.32" fill="#f4b67a"/>
<rect x="533.59" y="1569.57" width="17.9" height="13.95" fill="#b10ae8"/>
<rect x="562.67" y="1640.5" width="17.9" height="5.1" fill="#111111"/>
<rect x="562.67" y="1623.18" width="17.9" height="17.32" fill="#22a884"/>
<rect x="562.67" y="1616.7" width="17.9" height="6.48" fill="#7ad151"/>
<rect x="562.67" y="1604.41" width="17.9" height="12.29" fill="#fde725"/>
<rect x="562.67" y="1588.55" width="17.9" height="15.87" fill="#f4b67a"/>
<rect x="562.67" y="1575.7" width="17.9" height="12.85" fill="#b10ae8"/>
<rect x="562.67" y="1567.89" width="17.9" height="7.81" fill="#fa147a"/>
<rect x="591.75" y="1635.47" width="17.9" height="10.13" fill="#414487"/>
<rect x="591.75" y="1630.45" width="17.9" height="5.03" fill="#22a884"/>
<rect x="591.75" y="1625.98" width="17.9" height="4.47" fill="#7ad151"/>
<rect x="591.75" y="1617.93" width="17.9" height="8.04" fill="#fde725"/>
<rect x="591.75" y="1614.8" width="17.9" height="3.13" fill="#111111"/>
<rect x="591.75" y="1597.28" width="17.9" height="17.53" fill="#fa147a"/>
<rect x="620.83" y="1634.36" width="17.9" height="11.24" fill="#414487"/>
<rect x="620.83" y="1631.56" width="17.9" height="2.79" fill="#2a5e3c"/>
<rect x="620.83" y="1628.77" width="17.9" height="2.79" fill="#2a5e3c"/>
<rect x="620.83" y="1622.63" width="17.9" height="6.15" fill="#fde725"/>
<rect x="620.83" y="1620.95" width="17.9" height="1.68" fill="#111111"/>
<rect x="620.83" y="1601.19" width="17.9" height="19.76" fill="#fa147a"/>
<rect x="649.91" y="1633.8" width="17.9" height="11.8" fill="#414487"/>
<rect x="649.91" y="1630.22" width="17.9" height="3.58" fill="#2a5e3c"/>
<rect x="649.91" y="1625.75" width="17.9" height="4.47" fill="#fde725"/>
<rect x="649.91" y="1624.3" width="17.9" height="1.45" fill="#111111"/>
<rect x="649.91" y="1602.86" width="17.9" height="21.44" fill="#fa147a"/>
<rect x="678.99" y="1633.8" width="17.9" height="11.8" fill="#414487"/>
<rect x="678.99" y="1631.56" width="17.9" height="2.23" fill="#111111"/>
<rect x="678.99" y="1627.43" width="17.9" height="4.13" fill="#fde725"/>
<rect x="678.99" y="1625.98" width="17.9" height="1.45" fill="#111111"/>
<rect x="678.99" y="1614.6" width="17.9" height="11.38" fill="#fa147a"/>
<rect x="708.07" y="1633.24" width="17.9" height="12.36" fill="#414487"/>
<rect x="708.07" y="1629.33" width="17.9" height="3.91" fill="#2a5e3c"/>
<rect x="708.07" y="1624.64" width="17.9" height="4.69" fill="#fde725"/>
<rect x="708.07" y="1623.74" width="17.9" height="0.89" fill="#111111"/>
<rect x="708.07" y="1614.82" width="17.9" height="8.92" fill="#fa147a"/>
<rect x="737.15" y="1639.39" width="17.9" height="6.21" fill="#414487"/>
<rect x="737.15" y="1626.66" width="17.9" height="12.72" fill="#fa147a"/>
</g>
<path class="fr" d="M421.5 1645.6H766V1315.3H435.6V1645.6M421.5 1569.47H435.6M421.5 1493.35H435.6M421.5 1417.22H435.6M421.5 1341.1H435.6M455.4 1645.6V1659.5M484.48 1645.6V1659.5M513.56 1645.6V1659.5M542.64 1645.6V1659.5M571.72 1645.6V1659.5M600.8 1645.6V1659.5M629.88 1645.6V1659.5M658.96 1645.6V1659.5M688.04 1645.6V1659.5M717.12 1645.6V1659.5M746.2 1645.6V1659.5"/>
<text class="tk" text-anchor="middle" transform="translate(455 1684) scale(0.97 1.05)">0</text>
<text class="tk" text-anchor="middle" transform="translate(484.08 1684) scale(0.97 1.05)">0.5</text>
<text class="tk" text-anchor="middle" transform="translate(513.16 1684) scale(0.97 1.05)">1</text>
<text class="tk" text-anchor="middle" transform="translate(542.24 1684) scale(0.97 1.05)">1.5</text>
<text class="tk" text-anchor="middle" transform="translate(571.32 1684) scale(0.97 1.05)">2</text>
<text class="tk" text-anchor="middle" transform="translate(600.4 1684) scale(0.97 1.05)">4</text>
<text class="tk" text-anchor="middle" transform="translate(629.48 1684) scale(0.97 1.05)">6</text>
<text class="tk" text-anchor="middle" transform="translate(658.56 1684) scale(0.97 1.05)">8</text>
<text class="tk" text-anchor="middle" transform="translate(687.64 1684) scale(0.97 1.05)">10</text>
<text class="tk" text-anchor="middle" transform="translate(716.72 1684) scale(0.97 1.05)">12</text>
<text class="tk" text-anchor="middle" transform="translate(745.8 1684) scale(0.97 1.05)">24</text>
<text class="tk" text-anchor="end" transform="translate(417.8 1654) scale(0.97 1.05)">0</text>
<text class="tk" text-anchor="end" transform="translate(417.8 1577.88) scale(0.97 1.05)">15</text>
<text class="tk" text-anchor="end" transform="translate(417.8 1501.75) scale(0.97 1.05)">30</text>
<text class="tk" text-anchor="end" transform="translate(417.8 1425.62) scale(0.97 1.05)">45</text>
<text class="tk" text-anchor="end" transform="translate(417.8 1349.5) scale(0.97 1.05)">60</text>
<text class="ax" transform="translate(374.9 1661) rotate(-90) scale(1.008 1.075)">Relative abundance (%)</text>
<rect x="474.4" y="1324.9" width="56.2" height="55" rx="3.5" fill="#000"/>
<rect x="479.8" y="1330.3" width="45.4" height="44.2" fill="#fff"/>
<text class="bd" transform="translate(502.5 1366.3)">1</text>
<rect x="534.7" y="1324.9" width="56.2" height="55" rx="3.5" fill="#000"/>
<rect x="540.1" y="1330.3" width="45.4" height="44.2" fill="#fff"/>
<text class="bd" transform="translate(562.8 1366.3)">2</text>
<rect x="595.1" y="1324.9" width="56.2" height="55" rx="3.5" fill="#000"/>
<rect x="600.5" y="1330.3" width="45.4" height="44.2" fill="#fff"/>
<text class="bd" transform="translate(623.2 1366.3)">3</text>
<rect x="655.4" y="1324.9" width="56.2" height="55" rx="3.5" fill="#000"/>
<rect x="660.8" y="1330.3" width="45.4" height="44.2" fill="#a8c494"/>
<text class="bd" transform="translate(683.5 1366.3) scale(0.93 1)">4b</text>
</g>
<g id="panel-b4">
<g class="bar">
<rect x="946.25" y="1639.5" width="17.9" height="6.1" fill="#22a884"/>
<rect x="946.25" y="1636.15" width="17.9" height="3.35" fill="#111111"/>
<rect x="946.25" y="1633.35" width="17.9" height="2.79" fill="#b10ae8"/>
<rect x="946.25" y="1629.23" width="17.9" height="4.12" fill="#fa147a"/>
<rect x="975.37" y="1626.65" width="17.9" height="18.95" fill="#22a884"/>
<rect x="975.37" y="1617.37" width="17.9" height="9.27" fill="#7ad151"/>
<rect x="975.37" y="1596.26" width="17.9" height="21.12" fill="#fde725"/>
<rect x="975.37" y="1568.32" width="17.9" height="27.93" fill="#f4b67a"/>
<rect x="975.37" y="1552.35" width="17.9" height="15.98" fill="#b10ae8"/>
<rect x="975.37" y="1543.53" width="17.9" height="8.81" fill="#fa147a"/>
<rect x="1004.49" y="1626.31" width="17.9" height="19.29" fill="#22a884"/>
<rect x="1004.49" y="1618.6" width="17.9" height="7.71" fill="#7ad151"/>
<rect x="1004.49" y="1607.09" width="17.9" height="11.51" fill="#fde725"/>
<rect x="1004.49" y="1586.76" width="17.9" height="20.34" fill="#f4b67a"/>
<rect x="1004.49" y="1573.91" width="17.9" height="12.85" fill="#b10ae8"/>
<rect x="1004.49" y="1563.87" width="17.9" height="10.04" fill="#fa147a"/>
<rect x="1033.61" y="1635.59" width="17.9" height="10.01" fill="#22a884"/>
<rect x="1033.61" y="1630.56" width="17.9" height="5.03" fill="#7ad151"/>
<rect x="1033.61" y="1619.72" width="17.9" height="10.84" fill="#fde725"/>
<rect x="1033.61" y="1601.51" width="17.9" height="18.21" fill="#f4b67a"/>
<rect x="1033.61" y="1592.57" width="17.9" height="8.94" fill="#b10ae8"/>
<rect x="1033.61" y="1585.32" width="17.9" height="7.25" fill="#fa147a"/>
<rect x="1062.73" y="1640.61" width="17.9" height="4.99" fill="#22a884"/>
<rect x="1062.73" y="1637.26" width="17.9" height="3.35" fill="#7ad151"/>
<rect x="1062.73" y="1632.57" width="17.9" height="4.69" fill="#fde725"/>
<rect x="1062.73" y="1627.21" width="17.9" height="5.36" fill="#f4b67a"/>
<rect x="1062.73" y="1623.3" width="17.9" height="3.91" fill="#b10ae8"/>
<rect x="1062.73" y="1615.82" width="17.9" height="7.47" fill="#fa147a"/>
<rect x="1091.85" y="1641.9" width="17.9" height="3.7" fill="#111111"/>
<rect x="1091.85" y="1639.66" width="17.9" height="2.23" fill="#111111"/>
<rect x="1091.85" y="1635.55" width="17.9" height="4.12" fill="#fa147a"/>
<rect x="1120.97" y="1641.69" width="17.9" height="3.91" fill="#111111"/>
<rect x="1150.09" y="1641.36" width="17.9" height="4.24" fill="#fa147a"/>
<rect x="1179.21" y="1642.58" width="17.9" height="3.02" fill="#111111"/>
<rect x="1208.33" y="1643.37" width="17.9" height="2.23" fill="#111111"/>
<rect x="1237.45" y="1634.76" width="17.9" height="10.84" fill="#fa147a"/>
</g>
<path class="fr" d="M921.5 1645.6H1265.8V1315.3H935.6V1645.6M921.5 1569.47H935.6M921.5 1493.35H935.6M921.5 1417.22H935.6M921.5 1341.1H935.6M955.3 1645.6V1659.5M984.42 1645.6V1659.5M1013.54 1645.6V1659.5M1042.66 1645.6V1659.5M1071.78 1645.6V1659.5M1100.9 1645.6V1659.5M1130.02 1645.6V1659.5M1159.14 1645.6V1659.5M1188.26 1645.6V1659.5M1217.38 1645.6V1659.5M1246.5 1645.6V1659.5"/>
<text class="tk" text-anchor="middle" transform="translate(954.9 1684) scale(0.97 1.05)">0</text>
<text class="tk" text-anchor="middle" transform="translate(984.02 1684) scale(0.97 1.05)">0.5</text>
<text class="tk" text-anchor="middle" transform="translate(1013.14 1684) scale(0.97 1.05)">1</text>
<text class="tk" text-anchor="middle" transform="translate(1042.26 1684) scale(0.97 1.05)">1.5</text>
<text class="tk" text-anchor="middle" transform="translate(1071.38 1684) scale(0.97 1.05)">2</text>
<text class="tk" text-anchor="middle" transform="translate(1100.5 1684) scale(0.97 1.05)">4</text>
<text class="tk" text-anchor="middle" transform="translate(1129.62 1684) scale(0.97 1.05)">6</text>
<text class="tk" text-anchor="middle" transform="translate(1158.74 1684) scale(0.97 1.05)">8</text>
<text class="tk" text-anchor="middle" transform="translate(1187.86 1684) scale(0.97 1.05)">10</text>
<text class="tk" text-anchor="middle" transform="translate(1216.98 1684) scale(0.97 1.05)">12</text>
<text class="tk" text-anchor="middle" transform="translate(1246.1 1684) scale(0.97 1.05)">24</text>
<rect x="951.9" y="1324.9" width="56.4" height="55" rx="3.5" fill="#000"/>
<rect x="957.3" y="1330.3" width="45.6" height="44.2" fill="#fff"/>
<text class="bd" transform="translate(980.1 1366.3)">1</text>
<rect x="1012.2" y="1324.9" width="56.4" height="55" rx="3.5" fill="#000"/>
<rect x="1017.6" y="1330.3" width="45.6" height="44.2" fill="#fff"/>
<text class="bd" transform="translate(1040.4 1366.3)">2</text>
<rect x="1072.6" y="1324.9" width="56.4" height="55" rx="3.5" fill="#000"/>
<rect x="1078" y="1330.3" width="45.6" height="44.2" fill="#fff"/>
<text class="bd" transform="translate(1100.8 1366.3)">3</text>
<rect x="1132.9" y="1324.9" width="56.4" height="55" rx="3.5" fill="#000"/>
<rect x="1138.3" y="1330.3" width="45.6" height="44.2" fill="#a8c494"/>
<text class="bd" transform="translate(1161.1 1366.3) scale(0.93 1)">4b</text>
<rect x="1193.3" y="1324.9" width="56.3" height="55" rx="3.5" fill="#000"/>
<rect x="1198.7" y="1330.3" width="45.5" height="44.2" fill="#fff"/>
<text class="bd" transform="translate(1221.45 1366.3)">5</text>
</g>
<g id="panel-a5">
<g class="bar">
<rect x="446.35" y="2069.13" width="17.9" height="3.67" fill="#111111"/>
<rect x="446.35" y="2064.94" width="17.9" height="4.19" fill="#7ad151"/>
<rect x="446.35" y="2058.94" width="17.9" height="6" fill="#fde725"/>
<rect x="446.35" y="2057.24" width="17.9" height="1.7" fill="#111111"/>
<rect x="446.35" y="2049.88" width="17.9" height="7.36" fill="#b10ae8"/>
<rect x="446.35" y="2037.55" width="17.9" height="12.33" fill="#fa147a"/>
<rect x="475.43" y="2068" width="17.9" height="4.8" fill="#414487"/>
<rect x="475.43" y="2065.17" width="17.9" height="2.83" fill="#2a788e"/>
<rect x="475.43" y="2009.11" width="17.9" height="56.05" fill="#22a884"/>
<rect x="475.43" y="1980.8" width="17.9" height="28.31" fill="#7ad151"/>
<rect x="475.43" y="1929.62" width="17.9" height="51.18" fill="#fde725"/>
<rect x="475.43" y="1882.28" width="17.9" height="47.33" fill="#f4b67a"/>
<rect x="475.43" y="1848.08" width="17.9" height="34.2" fill="#b10ae8"/>
<rect x="475.43" y="1828.05" width="17.9" height="20.03" fill="#fa147a"/>
<rect x="504.51" y="2054.18" width="17.9" height="18.62" fill="#414487"/>
<rect x="504.51" y="2042.86" width="17.9" height="11.32" fill="#22a884"/>
<rect x="504.51" y="2034.59" width="17.9" height="8.27" fill="#7ad151"/>
<rect x="504.51" y="2007.75" width="17.9" height="26.84" fill="#fde725"/>
<rect x="504.51" y="1978.31" width="17.9" height="29.44" fill="#f4b67a"/>
<rect x="504.51" y="1956.79" width="17.9" height="21.52" fill="#b10ae8"/>
<rect x="504.51" y="1942.88" width="17.9" height="13.92" fill="#fa147a"/>
<rect x="533.59" y="2041.39" width="17.9" height="31.41" fill="#414487"/>
<rect x="533.59" y="2034.02" width="17.9" height="7.36" fill="#22a884"/>
<rect x="533.59" y="2027.8" width="17.9" height="6.23" fill="#7ad151"/>
<rect x="533.59" y="2013.07" width="17.9" height="14.72" fill="#fde725"/>
<rect x="533.59" y="2004.58" width="17.9" height="8.49" fill="#f4b67a"/>
<rect x="533.59" y="1997.22" width="17.9" height="7.36" fill="#b10ae8"/>
<rect x="533.59" y="1987.95" width="17.9" height="9.28" fill="#fa147a"/>
<rect x="562.67" y="2037.42" width="17.9" height="35.38" fill="#414487"/>
<rect x="562.67" y="2031.76" width="17.9" height="5.66" fill="#22a884"/>
<rect x="562.67" y="2028.14" width="17.9" height="3.62" fill="#7ad151"/>
<rect x="562.67" y="2013.41" width="17.9" height="14.72" fill="#fde725"/>
<rect x="562.67" y="2007.41" width="17.9" height="6" fill="#f4b67a"/>
<rect x="562.67" y="2002.32" width="17.9" height="5.1" fill="#b10ae8"/>
<rect x="562.67" y="1996.78" width="17.9" height="5.54" fill="#fa147a"/>
<rect x="591.75" y="2023.69" width="17.9" height="49.11" fill="#414487"/>
<rect x="591.75" y="2021.45" width="17.9" height="2.23" fill="#22a884"/>
<rect x="591.75" y="2019.78" width="17.9" height="1.68" fill="#111111"/>
<rect x="591.75" y="2002.46" width="17.9" height="17.32" fill="#fde725"/>
<rect x="591.75" y="2000.78" width="17.9" height="1.68" fill="#111111"/>
<rect x="591.75" y="1996.66" width="17.9" height="4.12" fill="#fa147a"/>
<rect x="620.83" y="2020.34" width="17.9" height="52.46" fill="#414487"/>
<rect x="620.83" y="2017.54" width="17.9" height="2.79" fill="#111111"/>
<rect x="620.83" y="1989.94" width="17.9" height="27.6" fill="#fde725"/>
<rect x="620.83" y="1988.49" width="17.9" height="1.45" fill="#111111"/>
<rect x="620.83" y="1984.71" width="17.9" height="3.78" fill="#fa147a"/>
<rect x="649.91" y="2016.42" width="17.9" height="56.38" fill="#414487"/>
<rect x="649.91" y="1982.35" width="17.9" height="34.08" fill="#fde725"/>
<rect x="649.91" y="1981.23" width="17.9" height="1.12" fill="#111111"/>
<rect x="649.91" y="1977.11" width="17.9" height="4.12" fill="#fa147a"/>
<rect x="678.99" y="2068.94" width="17.9" height="3.86" fill="#440154"/>
<rect x="678.99" y="2015.31" width="17.9" height="53.63" fill="#414487"/>
<rect x="678.99" y="2013.41" width="17.9" height="1.9" fill="#111111"/>
<rect x="678.99" y="1997.43" width="17.9" height="15.98" fill="#fde725"/>
<rect x="678.99" y="1995.98" width="17.9" height="1.45" fill="#111111"/>
<rect x="678.99" y="1990.52" width="17.9" height="5.46" fill="#fa147a"/>
<rect x="708.07" y="2063.91" width="17.9" height="8.89" fill="#440154"/>
<rect x="708.07" y="2037.09" width="17.9" height="26.82" fill="#414487"/>
<rect x="708.07" y="2034.86" width="17.9" height="2.23" fill="#22a884"/>
<rect x="708.07" y="2033.18" width="17.9" height="1.68" fill="#111111"/>
<rect x="708.07" y="2032.07" width="17.9" height="1.12" fill="#22a884"/>
<rect x="708.07" y="2030.95" width="17.9" height="1.12" fill="#111111"/>
<rect x="708.07" y="2024.82" width="17.9" height="6.13" fill="#fa147a"/>
<rect x="737.15" y="2056.66" width="17.9" height="16.14" fill="#fa147a"/>
</g>
<path class="fr" d="M421.5 2072.8H766V1742.5H435.6V2072.8M421.5 1996.68H435.6M421.5 1920.55H435.6M421.5 1844.43H435.6M421.5 1768.3H435.6M455.4 2072.8V2086.7M484.48 2072.8V2086.7M513.56 2072.8V2086.7M542.64 2072.8V2086.7M571.72 2072.8V2086.7M600.8 2072.8V2086.7M629.88 2072.8V2086.7M658.96 2072.8V2086.7M688.04 2072.8V2086.7M717.12 2072.8V2086.7M746.2 2072.8V2086.7"/>
<text class="tk" text-anchor="middle" transform="translate(455 2111.2) scale(0.97 1.05)">0</text>
<text class="tk" text-anchor="middle" transform="translate(484.08 2111.2) scale(0.97 1.05)">0.5</text>
<text class="tk" text-anchor="middle" transform="translate(513.16 2111.2) scale(0.97 1.05)">1</text>
<text class="tk" text-anchor="middle" transform="translate(542.24 2111.2) scale(0.97 1.05)">1.5</text>
<text class="tk" text-anchor="middle" transform="translate(571.32 2111.2) scale(0.97 1.05)">2</text>
<text class="tk" text-anchor="middle" transform="translate(600.4 2111.2) scale(0.97 1.05)">4</text>
<text class="tk" text-anchor="middle" transform="translate(629.48 2111.2) scale(0.97 1.05)">6</text>
<text class="tk" text-anchor="middle" transform="translate(658.56 2111.2) scale(0.97 1.05)">8</text>
<text class="tk" text-anchor="middle" transform="translate(687.64 2111.2) scale(0.97 1.05)">10</text>
<text class="tk" text-anchor="middle" transform="translate(716.72 2111.2) scale(0.97 1.05)">12</text>
<text class="tk" text-anchor="middle" transform="translate(745.8 2111.2) scale(0.97 1.05)">24</text>
<text class="tk" text-anchor="end" transform="translate(417.8 2081.2) scale(0.97 1.05)">0</text>
<text class="tk" text-anchor="end" transform="translate(417.8 2005.08) scale(0.97 1.05)">15</text>
<text class="tk" text-anchor="end" transform="translate(417.8 1928.95) scale(0.97 1.05)">30</text>
<text class="tk" text-anchor="end" transform="translate(417.8 1852.83) scale(0.97 1.05)">45</text>
<text class="tk" text-anchor="end" transform="translate(417.8 1776.7) scale(0.97 1.05)">60</text>
<text class="ax" transform="translate(374.9 2088.2) rotate(-90) scale(1.008 1.075)">Relative abundance (%)</text>
<rect x="474.4" y="1751.1" width="56.2" height="55.3" rx="3.5" fill="#000"/>
<rect x="479.8" y="1756.5" width="45.4" height="44.5" fill="#fff"/>
<text class="bd" transform="translate(502.5 1792.65)">1</text>
<rect x="534.7" y="1751.1" width="56.2" height="55.3" rx="3.5" fill="#000"/>
<rect x="540.1" y="1756.5" width="45.4" height="44.5" fill="#fff"/>
<text class="bd" transform="translate(562.8 1792.65)">2</text>
<rect x="595.1" y="1751.1" width="56.2" height="55.3" rx="3.5" fill="#000"/>
<rect x="600.5" y="1756.5" width="45.4" height="44.5" fill="#fff"/>
<text class="bd" transform="translate(623.2 1792.65)">3</text>
<rect x="655.4" y="1751.1" width="56.2" height="55.3" rx="3.5" fill="#000"/>
<rect x="660.8" y="1756.5" width="45.4" height="44.5" fill="#debe7a"/>
<text class="bd" transform="translate(683.5 1792.65) scale(0.93 1)">4c</text>
</g>
<g id="panel-b5">
<g class="bar">
<rect x="946.25" y="2064.53" width="17.9" height="8.27" fill="#7ad151"/>
<rect x="946.25" y="2055.03" width="17.9" height="9.5" fill="#fde725"/>
<rect x="946.25" y="2050" width="17.9" height="5.03" fill="#f4b67a"/>
<rect x="946.25" y="2036.59" width="17.9" height="13.41" fill="#b10ae8"/>
<rect x="946.25" y="2020.74" width="17.9" height="15.85" fill="#fa147a"/>
<rect x="975.37" y="2027.43" width="17.9" height="45.37" fill="#22a884"/>
<rect x="975.37" y="2008.66" width="17.9" height="18.77" fill="#7ad151"/>
<rect x="975.37" y="1964.19" width="17.9" height="44.47" fill="#fde725"/>
<rect x="975.37" y="1908.1" width="17.9" height="56.09" fill="#f4b67a"/>
<rect x="975.37" y="1876.26" width="17.9" height="31.84" fill="#b10ae8"/>
<rect x="975.37" y="1864.65" width="17.9" height="11.61" fill="#fa147a"/>
<rect x="1004.49" y="2067.32" width="17.9" height="5.48" fill="#414487"/>
<rect x="1004.49" y="2054.47" width="17.9" height="12.85" fill="#22a884"/>
<rect x="1004.49" y="2048.32" width="17.9" height="6.15" fill="#7ad151"/>
<rect x="1004.49" y="2022.07" width="17.9" height="26.26" fill="#fde725"/>
<rect x="1004.49" y="1989.11" width="17.9" height="32.96" fill="#f4b67a"/>
<rect x="1004.49" y="1963.41" width="17.9" height="25.7" fill="#b10ae8"/>
<rect x="1004.49" y="1959.85" width="17.9" height="3.56" fill="#fa147a"/>
<rect x="1033.61" y="2068.44" width="17.9" height="4.36" fill="#414487"/>
<rect x="1033.61" y="2066.2" width="17.9" height="2.23" fill="#22a884"/>
<rect x="1033.61" y="2063.97" width="17.9" height="2.23" fill="#7ad151"/>
<rect x="1033.61" y="2055.59" width="17.9" height="8.38" fill="#fde725"/>
<rect x="1033.61" y="2041.96" width="17.9" height="13.63" fill="#f4b67a"/>
<rect x="1033.61" y="2034.36" width="17.9" height="7.6" fill="#b10ae8"/>
<rect x="1033.61" y="2031.36" width="17.9" height="3" fill="#fa147a"/>
<rect x="1062.73" y="2066.54" width="17.9" height="6.26" fill="#111111"/>
<rect x="1062.73" y="2058.38" width="17.9" height="8.16" fill="#fde725"/>
<rect x="1062.73" y="2042.74" width="17.9" height="15.64" fill="#f4b67a"/>
<rect x="1062.73" y="2038.27" width="17.9" height="4.47" fill="#b10ae8"/>
<rect x="1062.73" y="2035.82" width="17.9" height="2.44" fill="#fa147a"/>
<rect x="1091.85" y="2068.12" width="17.9" height="4.68" fill="#111111"/>
<rect x="1120.97" y="2068.12" width="17.9" height="4.68" fill="#fa147a"/>
<rect x="1150.09" y="2068.9" width="17.9" height="3.9" fill="#fa147a"/>
<rect x="1179.21" y="2068.67" width="17.9" height="4.13" fill="#fa147a"/>
<rect x="1208.33" y="2070.8" width="17.9" height="2" fill="#111111"/>
<rect x="1237.45" y="2068.12" width="17.9" height="4.68" fill="#fa147a"/>
</g>
<path class="fr" d="M921.5 2072.8H1265.8V1742.5H935.6V2072.8M921.5 1996.68H935.6M921.5 1920.55H935.6M921.5 1844.43H935.6M921.5 1768.3H935.6M955.3 2072.8V2086.7M984.42 2072.8V2086.7M1013.54 2072.8V2086.7M1042.66 2072.8V2086.7M1071.78 2072.8V2086.7M1100.9 2072.8V2086.7M1130.02 2072.8V2086.7M1159.14 2072.8V2086.7M1188.26 2072.8V2086.7M1217.38 2072.8V2086.7M1246.5 2072.8V2086.7"/>
<text class="tk" text-anchor="middle" transform="translate(954.9 2111.2) scale(0.97 1.05)">0</text>
<text class="tk" text-anchor="middle" transform="translate(984.02 2111.2) scale(0.97 1.05)">0.5</text>
<text class="tk" text-anchor="middle" transform="translate(1013.14 2111.2) scale(0.97 1.05)">1</text>
<text class="tk" text-anchor="middle" transform="translate(1042.26 2111.2) scale(0.97 1.05)">1.5</text>
<text class="tk" text-anchor="middle" transform="translate(1071.38 2111.2) scale(0.97 1.05)">2</text>
<text class="tk" text-anchor="middle" transform="translate(1100.5 2111.2) scale(0.97 1.05)">4</text>
<text class="tk" text-anchor="middle" transform="translate(1129.62 2111.2) scale(0.97 1.05)">6</text>
<text class="tk" text-anchor="middle" transform="translate(1158.74 2111.2) scale(0.97 1.05)">8</text>
<text class="tk" text-anchor="middle" transform="translate(1187.86 2111.2) scale(0.97 1.05)">10</text>
<text class="tk" text-anchor="middle" transform="translate(1216.98 2111.2) scale(0.97 1.05)">12</text>
<text class="tk" text-anchor="middle" transform="translate(1246.1 2111.2) scale(0.97 1.05)">24</text>
<rect x="950.3" y="1751.3" width="56.4" height="55.2" rx="3.5" fill="#000"/>
<rect x="955.7" y="1756.7" width="45.6" height="44.4" fill="#fff"/>
<text class="bd" transform="translate(978.5 1792.8)">1</text>
<rect x="1010.7" y="1751.3" width="56.4" height="55.2" rx="3.5" fill="#000"/>
<rect x="1016.1" y="1756.7" width="45.6" height="44.4" fill="#fff"/>
<text class="bd" transform="translate(1038.9 1792.8)">2</text>
<rect x="1071.1" y="1751.3" width="56.4" height="55.2" rx="3.5" fill="#000"/>
<rect x="1076.5" y="1756.7" width="45.6" height="44.4" fill="#fff"/>
<text class="bd" transform="translate(1099.3 1792.8)">3</text>
<rect x="1131.5" y="1751.3" width="56.4" height="55.2" rx="3.5" fill="#000"/>
<rect x="1136.9" y="1756.7" width="45.6" height="44.4" fill="#debe7a"/>
<text class="bd" transform="translate(1159.7 1792.8) scale(0.93 1)">4c</text>
<rect x="1191.9" y="1751.3" width="56.4" height="55.2" rx="3.5" fill="#000"/>
<rect x="1197.3" y="1756.7" width="45.6" height="44.4" fill="#fff"/>
<text class="bd" transform="translate(1220.1 1792.8)">5</text>
</g>
<g id="panel-a6">
<g class="bar">
<rect x="446.35" y="2494.6" width="17.9" height="6.5" fill="#440154"/>
<rect x="475.43" y="2495.92" width="17.9" height="5.18" fill="#22a884"/>
<rect x="475.43" y="2485.53" width="17.9" height="10.39" fill="#7ad151"/>
<rect x="475.43" y="2479.72" width="17.9" height="5.81" fill="#fde725"/>
<rect x="475.43" y="2473.58" width="17.9" height="6.15" fill="#f4b67a"/>
<rect x="475.43" y="2466.31" width="17.9" height="7.26" fill="#b10ae8"/>
<rect x="475.43" y="2452.92" width="17.9" height="13.39" fill="#fa147a"/>
<rect x="504.51" y="2496.7" width="17.9" height="4.4" fill="#22a884"/>
<rect x="504.51" y="2489.22" width="17.9" height="7.49" fill="#7ad151"/>
<rect x="504.51" y="2481.62" width="17.9" height="7.6" fill="#fde725"/>
<rect x="504.51" y="2472.46" width="17.9" height="9.16" fill="#f4b67a"/>
<rect x="504.51" y="2462.96" width="17.9" height="9.5" fill="#b10ae8"/>
<rect x="504.51" y="2450.8" width="17.9" height="12.16" fill="#fa147a"/>
<rect x="533.59" y="2496.48" width="17.9" height="4.62" fill="#22a884"/>
<rect x="533.59" y="2489.44" width="17.9" height="7.04" fill="#7ad151"/>
<rect x="533.59" y="2482.74" width="17.9" height="6.7" fill="#fde725"/>
<rect x="533.59" y="2475.25" width="17.9" height="7.49" fill="#f4b67a"/>
<rect x="533.59" y="2467.43" width="17.9" height="7.82" fill="#b10ae8"/>
<rect x="533.59" y="2457.5" width="17.9" height="9.93" fill="#fa147a"/>
<rect x="562.67" y="2496.82" width="17.9" height="4.28" fill="#111111"/>
<rect x="562.67" y="2489.44" width="17.9" height="7.37" fill="#7ad151"/>
<rect x="562.67" y="2485.53" width="17.9" height="3.91" fill="#fde725"/>
<rect x="562.67" y="2482.74" width="17.9" height="2.79" fill="#111111"/>
<rect x="562.67" y="2479.39" width="17.9" height="3.35" fill="#b10ae8"/>
<rect x="562.67" y="2470.24" width="17.9" height="9.15" fill="#fa147a"/>
<rect x="591.75" y="2494.8" width="17.9" height="6.3" fill="#414487"/>
<rect x="591.75" y="2488.88" width="17.9" height="5.92" fill="#7ad151"/>
<rect x="591.75" y="2485.53" width="17.9" height="3.35" fill="#fde725"/>
<rect x="591.75" y="2483.07" width="17.9" height="2.46" fill="#111111"/>
<rect x="591.75" y="2478.95" width="17.9" height="4.12" fill="#fa147a"/>
<rect x="620.83" y="2493.69" width="17.9" height="7.41" fill="#414487"/>
<rect x="620.83" y="2490.34" width="17.9" height="3.35" fill="#7ad151"/>
<rect x="620.83" y="2487.54" width="17.9" height="2.79" fill="#f4b67a"/>
<rect x="620.83" y="2486.42" width="17.9" height="1.12" fill="#111111"/>
<rect x="620.83" y="2478.62" width="17.9" height="7.81" fill="#fa147a"/>
<rect x="649.91" y="2494.25" width="17.9" height="6.85" fill="#414487"/>
<rect x="649.91" y="2491.23" width="17.9" height="3.02" fill="#fde725"/>
<rect x="649.91" y="2488.66" width="17.9" height="2.57" fill="#111111"/>
<rect x="649.91" y="2484.54" width="17.9" height="4.12" fill="#fa147a"/>
<rect x="678.99" y="2494.58" width="17.9" height="6.52" fill="#414487"/>
<rect x="678.99" y="2490.89" width="17.9" height="3.69" fill="#2a788e"/>
<rect x="678.99" y="2481.19" width="17.9" height="9.71" fill="#fa147a"/>
<rect x="708.07" y="2495.36" width="17.9" height="5.74" fill="#414487"/>
<rect x="708.07" y="2492.57" width="17.9" height="2.79" fill="#111111"/>
<rect x="708.07" y="2485.1" width="17.9" height="7.47" fill="#fa147a"/>
<rect x="737.15" y="2442.86" width="17.9" height="58.24" fill="#fa147a"/>
</g>
<path class="fr" d="M421.5 2501.1H766V2170.8H435.6V2501.1M421.5 2424.97H435.6M421.5 2348.85H435.6M421.5 2272.72H435.6M421.5 2196.6H435.6M455.4 2501.1V2515M484.48 2501.1V2515M513.56 2501.1V2515M542.64 2501.1V2515M571.72 2501.1V2515M600.8 2501.1V2515M629.88 2501.1V2515M658.96 2501.1V2515M688.04 2501.1V2515M717.12 2501.1V2515M746.2 2501.1V2515"/>
<text class="tk" text-anchor="middle" transform="translate(455 2539.5) scale(0.97 1.05)">0</text>
<text class="tk" text-anchor="middle" transform="translate(484.08 2539.5) scale(0.97 1.05)">0.5</text>
<text class="tk" text-anchor="middle" transform="translate(513.16 2539.5) scale(0.97 1.05)">1</text>
<text class="tk" text-anchor="middle" transform="translate(542.24 2539.5) scale(0.97 1.05)">1.5</text>
<text class="tk" text-anchor="middle" transform="translate(571.32 2539.5) scale(0.97 1.05)">2</text>
<text class="tk" text-anchor="middle" transform="translate(600.4 2539.5) scale(0.97 1.05)">4</text>
<text class="tk" text-anchor="middle" transform="translate(629.48 2539.5) scale(0.97 1.05)">6</text>
<text class="tk" text-anchor="middle" transform="translate(658.56 2539.5) scale(0.97 1.05)">8</text>
<text class="tk" text-anchor="middle" transform="translate(687.64 2539.5) scale(0.97 1.05)">10</text>
<text class="tk" text-anchor="middle" transform="translate(716.72 2539.5) scale(0.97 1.05)">12</text>
<text class="tk" text-anchor="middle" transform="translate(745.8 2539.5) scale(0.97 1.05)">24</text>
<text class="tk" text-anchor="end" transform="translate(417.8 2509.5) scale(0.97 1.05)">0</text>
<text class="tk" text-anchor="end" transform="translate(417.8 2433.38) scale(0.97 1.05)">15</text>
<text class="tk" text-anchor="end" transform="translate(417.8 2357.25) scale(0.97 1.05)">30</text>
<text class="tk" text-anchor="end" transform="translate(417.8 2281.12) scale(0.97 1.05)">45</text>
<text class="tk" text-anchor="end" transform="translate(417.8 2205) scale(0.97 1.05)">60</text>
<text class="ax" transform="translate(374.9 2516.5) rotate(-90) scale(1.008 1.075)">Relative abundance (%)</text>
<rect x="474.4" y="2180.9" width="56.2" height="55" rx="3.5" fill="#000"/>
<rect x="479.8" y="2186.3" width="45.4" height="44.2" fill="#fff"/>
<text class="bd" transform="translate(502.5 2222.3)">1</text>
<rect x="534.7" y="2180.9" width="56.2" height="55" rx="3.5" fill="#000"/>
<rect x="540.1" y="2186.3" width="45.4" height="44.2" fill="#fff"/>
<text class="bd" transform="translate(562.8 2222.3)">2</text>
<rect x="595.1" y="2180.9" width="56.2" height="55" rx="3.5" fill="#000"/>
<rect x="600.5" y="2186.3" width="45.4" height="44.2" fill="#fff"/>
<text class="bd" transform="translate(623.2 2222.3)">3</text>
<rect x="655.4" y="2180.9" width="56.2" height="55" rx="3.5" fill="#000"/>
<rect x="660.8" y="2186.3" width="45.4" height="44.2" fill="#8fa6db"/>
<text class="bd" transform="translate(683.5 2222.3) scale(0.93 1)">4d</text>
</g>
<g id="panel-b6">
<g class="bar">
<rect x="946.25" y="2496.38" width="17.9" height="4.72" fill="#111111"/>
<rect x="975.37" y="2494.69" width="17.9" height="6.41" fill="#7ad151"/>
<rect x="975.37" y="2488.55" width="17.9" height="6.15" fill="#fde725"/>
<rect x="975.37" y="2481.06" width="17.9" height="7.49" fill="#f4b67a"/>
<rect x="975.37" y="2475.47" width="17.9" height="5.59" fill="#b10ae8"/>
<rect x="975.37" y="2474.04" width="17.9" height="1.44" fill="#fa147a"/>
<rect x="1004.49" y="2496.37" width="17.9" height="4.73" fill="#7ad151"/>
<rect x="1004.49" y="2491.9" width="17.9" height="4.47" fill="#fde725"/>
<rect x="1004.49" y="2487.21" width="17.9" height="4.69" fill="#f4b67a"/>
<rect x="1004.49" y="2482.4" width="17.9" height="4.8" fill="#b10ae8"/>
<rect x="1004.49" y="2478.51" width="17.9" height="3.9" fill="#fa147a"/>
<rect x="1033.61" y="2497.82" width="17.9" height="3.28" fill="#7ad151"/>
<rect x="1033.61" y="2494.47" width="17.9" height="3.35" fill="#fde725"/>
<rect x="1033.61" y="2489.33" width="17.9" height="5.14" fill="#f4b67a"/>
<rect x="1033.61" y="2485.98" width="17.9" height="3.35" fill="#b10ae8"/>
<rect x="1033.61" y="2482.75" width="17.9" height="3.23" fill="#fa147a"/>
<rect x="1062.73" y="2497.82" width="17.9" height="3.28" fill="#fde725"/>
<rect x="1062.73" y="2495.81" width="17.9" height="2.01" fill="#111111"/>
<rect x="1062.73" y="2493.8" width="17.9" height="2.01" fill="#f4b67a"/>
<rect x="1062.73" y="2491.9" width="17.9" height="1.9" fill="#111111"/>
<rect x="1062.73" y="2487.56" width="17.9" height="4.34" fill="#fa147a"/>
<rect x="1091.85" y="2495.94" width="17.9" height="5.16" fill="#fa147a"/>
<rect x="1120.97" y="2498.39" width="17.9" height="2.71" fill="#111111"/>
<rect x="1150.09" y="2498.39" width="17.9" height="2.71" fill="#111111"/>
<rect x="1179.21" y="2497.5" width="17.9" height="3.6" fill="#fa147a"/>
<rect x="1208.33" y="2497.5" width="17.9" height="3.6" fill="#fa147a"/>
<rect x="1237.45" y="2485.77" width="17.9" height="15.33" fill="#fa147a"/>
</g>
<path class="fr" d="M921.5 2501.1H1265.8V2170.8H935.6V2501.1M921.5 2424.97H935.6M921.5 2348.85H935.6M921.5 2272.72H935.6M921.5 2196.6H935.6M955.3 2501.1V2515M984.42 2501.1V2515M1013.54 2501.1V2515M1042.66 2501.1V2515M1071.78 2501.1V2515M1100.9 2501.1V2515M1130.02 2501.1V2515M1159.14 2501.1V2515M1188.26 2501.1V2515M1217.38 2501.1V2515M1246.5 2501.1V2515"/>
<text class="tk" text-anchor="middle" transform="translate(954.9 2539.5) scale(0.97 1.05)">0</text>
<text class="tk" text-anchor="middle" transform="translate(984.02 2539.5) scale(0.97 1.05)">0.5</text>
<text class="tk" text-anchor="middle" transform="translate(1013.14 2539.5) scale(0.97 1.05)">1</text>
<text class="tk" text-anchor="middle" transform="translate(1042.26 2539.5) scale(0.97 1.05)">1.5</text>
<text class="tk" text-anchor="middle" transform="translate(1071.38 2539.5) scale(0.97 1.05)">2</text>
<text class="tk" text-anchor="middle" transform="translate(1100.5 2539.5) scale(0.97 1.05)">4</text>
<text class="tk" text-anchor="middle" transform="translate(1129.62 2539.5) scale(0.97 1.05)">6</text>
<text class="tk" text-anchor="middle" transform="translate(1158.74 2539.5) scale(0.97 1.05)">8</text>
<text class="tk" text-anchor="middle" transform="translate(1187.86 2539.5) scale(0.97 1.05)">10</text>
<text class="tk" text-anchor="middle" transform="translate(1216.98 2539.5) scale(0.97 1.05)">12</text>
<text class="tk" text-anchor="middle" transform="translate(1246.1 2539.5) scale(0.97 1.05)">24</text>
<rect x="950.3" y="2180.9" width="56.4" height="55" rx="3.5" fill="#000"/>
<rect x="955.7" y="2186.3" width="45.6" height="44.2" fill="#fff"/>
<text class="bd" transform="translate(978.5 2222.3)">1</text>
<rect x="1010.7" y="2180.9" width="56.4" height="55" rx="3.5" fill="#000"/>
<rect x="1016.1" y="2186.3" width="45.6" height="44.2" fill="#fff"/>
<text class="bd" transform="translate(1038.9 2222.3)">2</text>
<rect x="1071.1" y="2180.9" width="56.4" height="55" rx="3.5" fill="#000"/>
<rect x="1076.5" y="2186.3" width="45.6" height="44.2" fill="#fff"/>
<text class="bd" transform="translate(1099.3 2222.3)">3</text>
<rect x="1131.5" y="2180.9" width="56.4" height="55" rx="3.5" fill="#000"/>
<rect x="1136.9" y="2186.3" width="45.6" height="44.2" fill="#8fa6db"/>
<text class="bd" transform="translate(1159.7 2222.3) scale(0.93 1)">4d</text>
<rect x="1191.9" y="2180.9" width="56.4" height="55" rx="3.5" fill="#000"/>
<rect x="1197.3" y="2186.3" width="45.6" height="44.2" fill="#fff"/>
<text class="bd" transform="translate(1220.1 2222.3)">5</text>
</g>
<text class="ax" text-anchor="middle" transform="translate(600.7 2585) scale(1.02 1.02)">Time (h)</text>
<text class="ax" text-anchor="middle" transform="translate(1100.7 2585) scale(1.02 1.02)">Time (h)</text>
<g id="legend">
<rect x="-0.3" y="2625.95" width="53.8" height="16.8" fill="#440154" stroke="#0a0a1e" stroke-width="1.8"/>
<text class="lg" transform="translate(82.5 2646.4)">Propionyl-CoA</text>
<rect x="360.9" y="2625.95" width="51.4" height="16.8" fill="#414487" stroke="#0a0a1e" stroke-width="1.8"/>
<text class="lg" transform="translate(441.7 2646.4)">Methylmalonyl-CoA</text>
<rect x="795.7" y="2625.95" width="51.4" height="16.8" fill="#2a788e" stroke="#0a0a1e" stroke-width="1.8"/>
<text class="lg" transform="translate(876.8 2646.4)">Succinyl-CoA</text>
<rect x="1138.2" y="2625.95" width="51.4" height="16.8" fill="#22a884" stroke="#0a0a1e" stroke-width="1.8"/>
<text class="lg" transform="translate(1219.8 2646.4)">γ-hydroxybutyryl-CoA</text>
<rect x="1607.2" y="2625.95" width="51.4" height="16.8" fill="#7ad151" stroke="#0a0a1e" stroke-width="1.8"/>
<text class="lg" transform="translate(1688.6 2646.4)">Crotonyl-CoA</text>
<rect x="-0.3" y="2681.8" width="53.8" height="16.8" fill="#fde725" stroke="#0a0a1e" stroke-width="1.8"/>
<text class="lg" transform="translate(82.5 2700.9) scale(0.994 1)">Ethylmalonyl-CoA</text>
<rect x="510.2" y="2681.8" width="51.4" height="16.8" fill="#f4b67a" stroke="#0a0a1e" stroke-width="1.8"/>
<text class="lg" transform="translate(589.9 2700.9)">Methylsuccinyl-CoA</text>
<rect x="1047.3" y="2681.8" width="51.4" height="16.8" fill="#b10ae8" stroke="#0a0a1e" stroke-width="1.8"/>
<text class="lg" transform="translate(1127.8 2700.9)">Mesaconyl-CoA</text>
<rect x="1526.2" y="2681.8" width="51.4" height="16.8" fill="#fa147a" stroke="#0a0a1e" stroke-width="1.8"/>
<text class="lg" transform="translate(1607 2700.9) scale(0.986 1)">β-methylmalyl-CoA</text>
</g>
</svg></body></html>
